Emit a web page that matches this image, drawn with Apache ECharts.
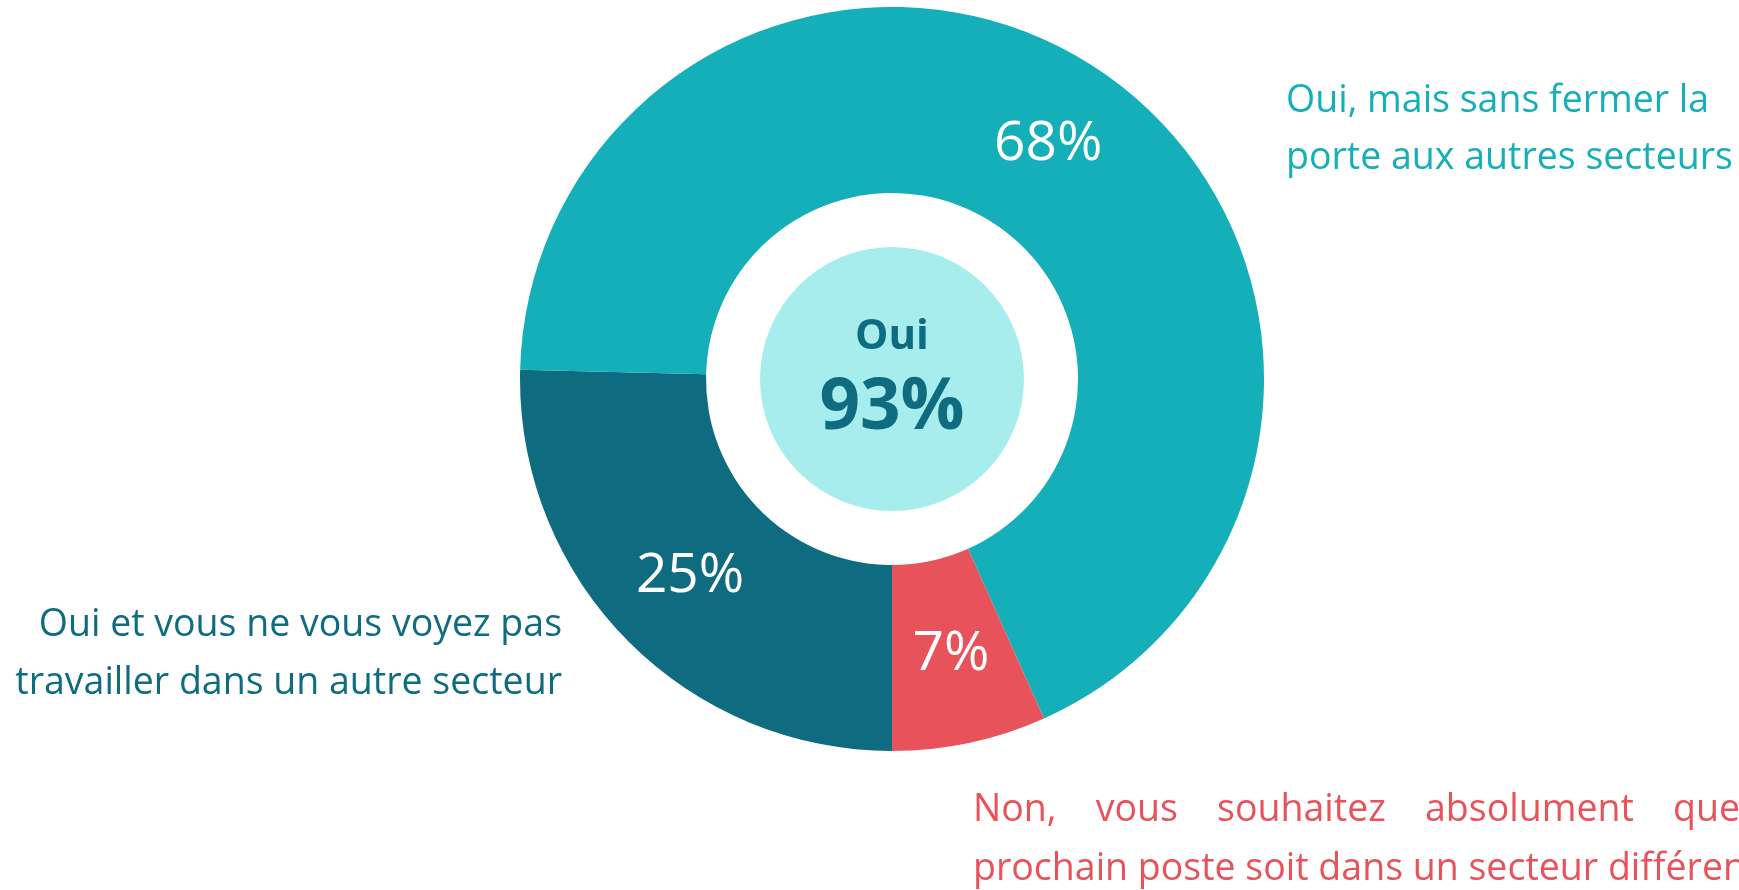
<!DOCTYPE html>
<html>
<head>
<meta charset="utf-8">
<script src="https://cdn.jsdelivr.net/npm/echarts@6/dist/echarts.min.js"></script>
<style>
    html, body { margin: 0; padding: 0; background: #fff; }
    #chart { width: 1739px; height: 890px; }
</style>
</head>
<body>
<div id="chart"></div>
<script>
// donnees (sens horaire depuis 6h)
var categories = [
    'Oui et vous ne vous voyez pas\ntravailler dans un autre secteur',
    'Oui, mais sans fermer la\nporte aux autres secteurs',
    'Non, vous souhaitez absolument que\nprochain poste soit dans un secteur différent'
];
var values = [25.4, 67.9, 6.7];
var centerTitle = 'Oui';

var colors = ['#0e6b80', '#14afb8', '#e8525a'];
var font = '"Open Sans", sans-serif';
var textSize = 37.5;

// total des "Oui" pour le cercle central
var ouiTotal = Math.round(values[0] + values[1]);

// mesure du texte pour la ligne justifiee du bas
function textWidth(str, size) {
    var ctx = document.createElement('canvas').getContext('2d');
    ctx.font = size + 'px "Open Sans"';
    return ctx.measureText(str).width;
}

function justifiedLine(str, x0, x1, y, color) {
    var words = str.split(' ');
    var total = 0;
    words.forEach(function (w) { total += textWidth(w, textSize); });
    var gap = (x1 - x0 - total) / (words.length - 1);
    var x = x0;
    var items = [];
    words.forEach(function (w) {
        items.push({
            type: 'text', x: x, y: y,
            style: { text: w, fill: color, fontSize: textSize, fontFamily: font, verticalAlign: 'middle' }
        });
        x += textWidth(w, textSize) + gap;
    });
    return items;
}

var myChart = echarts.init(document.getElementById('chart'));

var nonLines = categories[2].split('\n');
var graphics = [
    {
        type: 'text', x: 562, y: 596,
        style: {
            text: categories[0], fill: colors[0], fontSize: textSize, fontFamily: font,
            align: 'right', verticalAlign: 'top', lineHeight: 58
        }
    },
    {
        type: 'text', x: 1286, y: 73,
        style: {
            text: categories[1], fill: colors[1], fontSize: textSize, fontFamily: font,
            align: 'left', verticalAlign: 'top', lineHeight: 57
        }
    },
    {
        type: 'text', x: 973, y: 869,
        style: { text: nonLines[1], fill: colors[2], fontSize: textSize, fontFamily: font, verticalAlign: 'middle' }
    }
].concat(justifiedLine(nonLines[0], 973, 1740, 810, colors[2]));

var option = {
    animation: false,
    graphic: graphics,
    series: [
        {
            type: 'pie',
            center: [892, 379],
            radius: [186, 372],
            startAngle: 270,
            clockwise: true,
            avoidLabelOverlap: false,
            silent: true,
            label: {
                show: true,
                position: 'inside',
                color: '#fff',
                fontSize: 55,
                fontFamily: font,
                formatter: function (p) {
                    return Math.round(p.value) + '%';
                }
            },
            labelLine: { show: false },
            data: values.map(function (v, i) {
                return { name: categories[i], value: v, itemStyle: { color: colors[i] } };
            })
        },
        {
            // cercle central
            type: 'pie',
            center: [892, 379],
            radius: [0, 132],
            silent: true,
            label: {
                show: true,
                position: 'center',
                formatter: '{a|' + centerTitle + '}\n{b|' + ouiTotal + '%}',
                rich: {
                    a: { fontSize: 42, fontWeight: 'bold', color: colors[0], fontFamily: font, lineHeight: 60 },
                    b: { fontSize: 71, fontWeight: 'bold', color: colors[0], fontFamily: font, lineHeight: 84 }
                }
            },
            labelLine: { show: false },
            data: [{ name: centerTitle, value: ouiTotal, itemStyle: { color: '#a7eded' } }]
        }
    ]
};
myChart.setOption(option);
</script>
</body>
</html>
